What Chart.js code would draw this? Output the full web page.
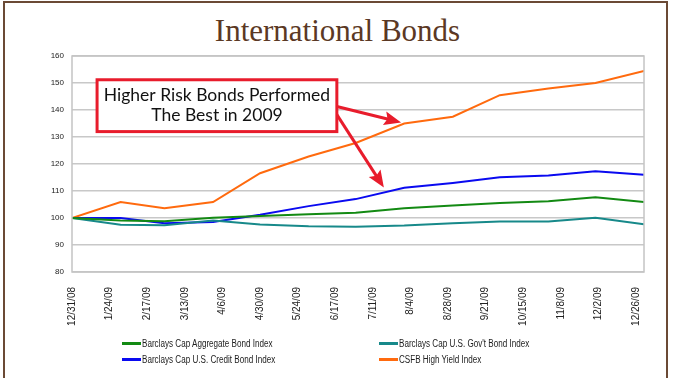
<!DOCTYPE html>
<html>
<head>
<meta charset="utf-8">
<script src="https://cdn.jsdelivr.net/npm/chart.js@4.4.1/dist/chart.umd.min.js"></script>
<style>
  html, body { margin: 0; padding: 0; background: #fff; }
  #wrap { position: relative; width: 675px; height: 378px; overflow: hidden; }
  #frame { position: absolute; left: 3px; top: 1px; width: 665px; height: 400px;
           border: 2px solid #6b4a35; box-sizing: border-box; }
  #title { position: absolute; left: 0; width: 675px; top: 13px; margin: 0; text-align: center;
           font: 31px "Liberation Serif", "DejaVu Serif", serif; color: #5b3824; font-weight: normal; }
  canvas { position: absolute; left: 0; top: 0; }
  #legend { position: absolute; left: 122px; top: 337px; width: 520px;
            display: grid; grid-template-columns: 257px 250px; row-gap: 4px;
            font: 10px "Liberation Sans", Arial, sans-serif; color: #222; }
  #legend span { display: flex; align-items: center; height: 12px; white-space: nowrap; }
  #legend i { display: inline-block; width: 19px; height: 3px; margin-right: 1px; flex: none; }
  #legend b { font-weight: normal; display: inline-block; transform: scaleX(0.81); transform-origin: left center; }
</style>
</head>
<body>
<div id="wrap">
  <div id="frame"></div>
  <h1 id="title">International Bonds</h1>
  <canvas id="c" width="675" height="378"></canvas>
  <div id="legend"></div>
</div>
<script>
// ── Data: month-end values, x = days since 12/31/08 ────────────────────
const DAYS      = [0, 31, 59, 90, 120, 151, 181, 212, 243, 273, 304, 334, 365];
const AGGREGATE = [100, 99.1, 98.8, 100.1, 100.7, 101.4, 101.9, 103.6, 104.6, 105.6, 106.2, 107.7, 105.9];
const GOVT      = [100, 97.5, 97.3, 99.1, 97.6, 96.9, 96.8, 97.2, 98.1, 98.7, 98.7, 100.1, 97.7];
const CREDIT    = [100, 100, 98.1, 98.5, 101.2, 104.4, 107.0, 111.2, 113.0, 115.1, 115.7, 117.3, 116.0];
const HIGHYIELD = [100, 105.9, 103.6, 105.9, 116.6, 122.8, 127.8, 135.0, 137.5, 145.5, 148.0, 150.0, 154.5];

// x tick labels every 24 days
const TICK_DAYS   = [0, 24, 48, 72, 96, 120, 144, 168, 192, 216, 240, 264, 288, 312, 336, 360];
const TICK_LABELS = ["12/31/08","1/24/09","2/17/09","3/13/09","4/6/09","4/30/09","5/24/09","6/17/09",
                     "7/11/09","8/4/09","8/28/09","9/21/09","10/15/09","11/8/09","12/2/09","12/26/09"];

const SERIES = [
    { label: "Barclays Cap Aggregate Bond Index",   data: AGGREGATE, color: "#138a13" },
    { label: "Barclays Cap U.S. Gov't Bond Index",  data: GOVT,      color: "#17898a" },
    { label: "Barclays Cap U.S. Credit Bond Index", data: CREDIT,    color: "#0a0af0" },
    { label: "CSFB High Yield Index",               data: HIGHYIELD, color: "#ff6a0e" },
];

// callout box + arrows (in data units)
const CALLOUT_TEXT = ["Higher Risk Bonds Performed", "The Best in 2009"];
const CALLOUT_BOX  = { x0: 16, x1: 169, y0: 151.2, y1: 132 };
const ARROWS = [
    { from: [169, 141.3], to: [210, 135.4] },
    { from: [169, 138.3], to: [199, 111.3] },
];

// ── Chart ───────────────────────────────────────────────────────────────
const calloutPlugin = {
    id: "callout",
    afterDatasetsDraw(chart) {
        const { ctx, chartArea: a, scales: { x, y } } = chart;
        ctx.save();
        // plot frame
        ctx.strokeStyle = "#c4c4c4";
        ctx.lineWidth = 1.5;
        ctx.strokeRect(a.left, a.top, a.right - a.left, a.bottom - a.top);

        const red = "#e81c2c";
        const bx0 = x.getPixelForValue(CALLOUT_BOX.x0), bx1 = x.getPixelForValue(CALLOUT_BOX.x1);
        const by0 = y.getPixelForValue(CALLOUT_BOX.y0), by1 = y.getPixelForValue(CALLOUT_BOX.y1);

        // arrows
        ARROWS.forEach(ar => {
            const fx = x.getPixelForValue(ar.from[0]), fy = y.getPixelForValue(ar.from[1]);
            const tx = x.getPixelForValue(ar.to[0]),   ty = y.getPixelForValue(ar.to[1]);
            const ang = Math.atan2(ty - fy, tx - fx);
            const len = 17, half = 7;
            const bxp = tx - len * Math.cos(ang), byp = ty - len * Math.sin(ang);
            ctx.strokeStyle = red; ctx.lineWidth = 3;
            ctx.beginPath(); ctx.moveTo(fx, fy); ctx.lineTo(bxp + 4 * Math.cos(ang), byp + 4 * Math.sin(ang)); ctx.stroke();
            ctx.fillStyle = red;
            ctx.beginPath();
            ctx.moveTo(tx, ty);
            ctx.lineTo(bxp - half * Math.sin(ang), byp + half * Math.cos(ang));
            ctx.lineTo(bxp + 3 * Math.cos(ang), byp + 3 * Math.sin(ang));
            ctx.lineTo(bxp + half * Math.sin(ang), byp - half * Math.cos(ang));
            ctx.closePath(); ctx.fill();
        });

        // box
        ctx.fillStyle = "#fff";
        ctx.fillRect(bx0, by0, bx1 - bx0, by1 - by0);
        ctx.strokeStyle = red; ctx.lineWidth = 3;
        ctx.strokeRect(bx0, by0, bx1 - bx0, by1 - by0);
        ctx.fillStyle = "#111";
        ctx.font = '17.5px Lato, "Open Sans", sans-serif';
        ctx.textAlign = "center"; ctx.textBaseline = "middle";
        const cx = (bx0 + bx1) / 2, cy = (by0 + by1) / 2;
        ctx.fillText(CALLOUT_TEXT[0], cx, cy - 10);
        ctx.fillText(CALLOUT_TEXT[1], cx, cy + 10);
        ctx.restore();
    }
};

new Chart(document.getElementById("c"), {
    type: "line",
    data: {
        datasets: SERIES.map(s => ({
            label: s.label,
            data: DAYS.map((d, i) => ({ x: d, y: s.data[i] })),
            borderColor: s.color, backgroundColor: s.color,
            borderWidth: 2, pointRadius: 0, tension: 0,
        })),
    },
    options: {
        responsive: false, animation: false, devicePixelRatio: 1,
        layout: { padding: { left: 0, right: 31, top: 56, bottom: 46 } },
        plugins: { legend: { display: false }, tooltip: { enabled: false }, title: { display: false } },
        scales: {
            x: {
                type: "linear", min: 0, max: 365,
                afterBuildTicks: sc => { sc.ticks = TICK_DAYS.map(v => ({ value: v })); },
                afterFit: sc => { sc.height = 60; },
                grid: { display: false },
                border: { display: false },
                ticks: {
                    autoSkip: false, maxRotation: 90, minRotation: 90, padding: 7,
                    color: "#222", font: { family: '"Liberation Sans", Arial, sans-serif', size: 10 },
                    callback: v => TICK_LABELS[TICK_DAYS.indexOf(v)] ?? "",
                },
            },
            y: {
                min: 80, max: 160,
                afterFit: sc => { sc.width = 72; },
                grid: { color: "#c8c8c8", lineWidth: 1.5, drawTicks: false },
                border: { display: false },
                ticks: {
                    stepSize: 10, padding: 8,
                    color: "#222", font: { family: '"Liberation Sans", Arial, sans-serif', size: 8 },
                },
            },
        },
    },
    plugins: [calloutPlugin],
});

document.getElementById("legend").innerHTML = SERIES.map(s =>
    `<span><i style="background:${s.color}"></i><b>${s.label}</b></span>`).join("");
</script>
</body>
</html>
